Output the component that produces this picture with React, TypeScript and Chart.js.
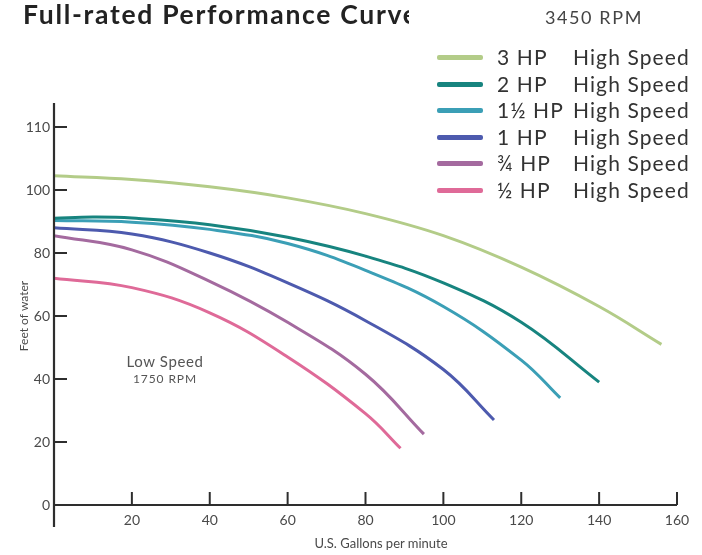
import React, { useEffect, useRef } from "react";
import { Chart, registerables } from "chart.js";

Chart.register(...registerables);

// ---- data ----
const seriesNames = ["3 HP", "2 HP", "1\u00BD HP", "1 HP", "\u00BE HP", "\u00BD HP"];
const seriesColors = ["#b3cc88", "#17847f", "#3b9fb6", "#4d5aae", "#a46a9f", "#df6a98"];

const gpm3HP = [0, 20, 40, 60, 80, 100, 120, 140, 156];
const ft3HP = [104.5, 103.3, 101, 97.5, 92.5, 85.5, 75.5, 63, 51];

const gpm2HP = [0, 10, 20, 40, 60, 80, 100, 120, 140];
const ft2HP = [91, 91.4, 91.1, 89, 85, 79, 70.5, 58, 39];

const gpm15HP = [0, 20, 40, 60, 80, 100, 120, 130];
const ft15HP = [90.3, 89.8, 87.5, 83, 74.5, 63, 46, 34];

const gpm1HP = [0, 20, 40, 60, 80, 100, 113];
const ft1HP = [88, 86, 80, 70.5, 58.5, 43, 27];

const gpm075HP = [0, 20, 40, 60, 80, 95];
const ft075HP = [85.5, 81, 71, 58, 41.5, 22.5];

const gpm05HP = [0, 20, 40, 60, 80, 89];
const ft05HP = [72, 69, 61, 47, 29, 18];

const seriesX = [gpm3HP, gpm2HP, gpm15HP, gpm1HP, gpm075HP, gpm05HP];
const seriesY = [ft3HP, ft2HP, ft15HP, ft1HP, ft075HP, ft05HP];

const yTickValues = [0, 20, 40, 60, 80, 100, 120];
const yTickLabels = ["0", "20", "40", "60", "80", "100", "110"];
const xTickValues = [20, 40, 60, 80, 100, 120, 140, 160];

const FONT = "Lato, 'Open Sans', sans-serif";

const axesPlugin = {
  id: "customAxes",
  afterDraw(chart: any) {
    const { ctx } = chart;
    const xs = chart.scales.x;
    const ys = chart.scales.y;
    const x0 = xs.getPixelForValue(0);
    const y0 = ys.getPixelForValue(0);
    ctx.save();
    ctx.strokeStyle = "#2e2e2e";
    ctx.lineWidth = 2.2;
    ctx.lineCap = "butt";
    ctx.beginPath();
    ctx.moveTo(x0, ys.getPixelForValue(120) - 24);
    ctx.lineTo(x0, y0 + 22);
    ctx.stroke();
    ctx.beginPath();
    ctx.moveTo(x0 - 1, y0);
    ctx.lineTo(xs.getPixelForValue(160), y0);
    ctx.stroke();
    ctx.lineWidth = 2;
    yTickValues.forEach((v) => {
      if (v === 0) return;
      const py = ys.getPixelForValue(v);
      ctx.beginPath();
      ctx.moveTo(x0, py);
      ctx.lineTo(x0 + 13, py);
      ctx.stroke();
    });
    xTickValues.forEach((v) => {
      const px = xs.getPixelForValue(v);
      ctx.beginPath();
      ctx.moveTo(px, y0);
      ctx.lineTo(px, y0 - 13);
      ctx.stroke();
    });
    ctx.restore();
  },
};

export default function App() {
  const ref = useRef<HTMLCanvasElement | null>(null);

  useEffect(() => {
    if (!ref.current) return;
    const datasets = seriesNames.map((name, i) => ({
      label: name,
      data: seriesX[i].map((x, j) => ({ x, y: seriesY[i][j] })),
      borderColor: seriesColors[i],
      backgroundColor: seriesColors[i],
      borderWidth: 3,
      pointRadius: 0,
      tension: 0.4,
      fill: false,
    }));
    const chart = new Chart(ref.current, {
      type: "line",
      data: { datasets },
      plugins: [axesPlugin],
      options: {
        animation: false,
        responsive: false,
        layout: { padding: { top: 127, right: 25, left: 0, bottom: 0 } },
        plugins: { legend: { display: false }, tooltip: { enabled: false } },
        scales: {
          x: {
            type: "linear",
            min: 0,
            max: 160,
            afterBuildTicks: (s: any) => {
              s.ticks = xTickValues.map((v) => ({ value: v }));
            },
            afterFit: (s: any) => {
              s.height = 50;
              s.paddingLeft = 0;
              s.paddingRight = 0;
            },
            grid: { display: false, drawTicks: false },
            border: { display: false },
            ticks: {
              padding: 7,
              color: "#4a4a4a",
              font: { family: FONT, size: 14 },
              maxRotation: 0,
            },
          },
          y: {
            type: "linear",
            min: 0,
            max: 120,
            afterBuildTicks: (s: any) => {
              s.ticks = yTickValues.map((v) => ({ value: v }));
            },
            afterFit: (s: any) => {
              s.width = 54;
              s.paddingTop = 0;
              s.paddingBottom = 0;
            },
            grid: { display: false, drawTicks: false },
            border: { display: false },
            ticks: {
              padding: 4,
              color: "#4a4a4a",
              font: { family: FONT, size: 14 },
              callback: (v: any) => {
                const idx = yTickValues.indexOf(Number(v));
                return idx >= 0 ? yTickLabels[idx] : "";
              },
            },
            title: {
              display: true,
              text: "Feet of water",
              color: "#4a4a4a",
              font: { family: FONT, size: 12 },
              padding: { top: 17, bottom: 0 },
            },
          },
        },
      },
    });
    return () => chart.destroy();
  }, []);

  const rowTops = [57, 84, 110, 137, 163, 190];

  const legendText: React.CSSProperties = {
    position: "absolute",
    fontSize: 21,
    letterSpacing: 1.1,
    lineHeight: "26px",
    color: "#333",
    whiteSpace: "nowrap",
  };

  return (
    <div
      style={{
        position: "absolute",
        left: 0,
        top: 0,
        width: 702,
        height: 555,
        background: "#fff",
        fontFamily: FONT,
        overflow: "hidden",
      }}
    >
      <canvas ref={ref} width={702} height={555} style={{ position: "absolute", left: 0, top: 0 }} />
      <div
        style={{
          position: "absolute",
          left: 23,
          top: -3,
          width: 386,
          overflow: "hidden",
          whiteSpace: "nowrap",
          fontWeight: 700,
          fontSize: 26.5,
          letterSpacing: 1.7,
          lineHeight: "34px",
          color: "#222",
        }}
      >
        Full-rated Performance Curve
      </div>
      <div
        style={{
          position: "absolute",
          left: 545,
          top: 5,
          fontSize: 18,
          letterSpacing: 1.6,
          lineHeight: "24px",
          color: "#444",
          whiteSpace: "nowrap",
        }}
      >
        3450 RPM
      </div>
      {seriesNames.map((name, i) => (
        <div key={name}>
          <div
            style={{
              position: "absolute",
              left: 437,
              top: rowTops[i] - 2.5,
              width: 46,
              height: 5,
              borderRadius: 2,
              background: seriesColors[i],
            }}
          />
          <div style={{ ...legendText, left: 497, top: rowTops[i] - 13 }}>{name}</div>
          <div style={{ ...legendText, left: 573, top: rowTops[i] - 13 }}>High Speed</div>
        </div>
      ))}
      <div
        style={{
          position: "absolute",
          left: 105,
          width: 120,
          top: 352,
          textAlign: "center",
          color: "#555",
          lineHeight: "18px",
          whiteSpace: "nowrap",
        }}
      >
        <div style={{ fontSize: 15, letterSpacing: 0.6 }}>Low Speed</div>
        <div style={{ fontSize: 12, letterSpacing: 0.9 }}>1750 RPM</div>
      </div>
      <div
        style={{
          position: "absolute",
          left: 281,
          width: 200,
          top: 535,
          textAlign: "center",
          fontSize: 13,
          color: "#4a4a4a",
          lineHeight: "16px",
          whiteSpace: "nowrap",
        }}
      >
        U.S. Gallons per minute
      </div>
    </div>
  );
}
